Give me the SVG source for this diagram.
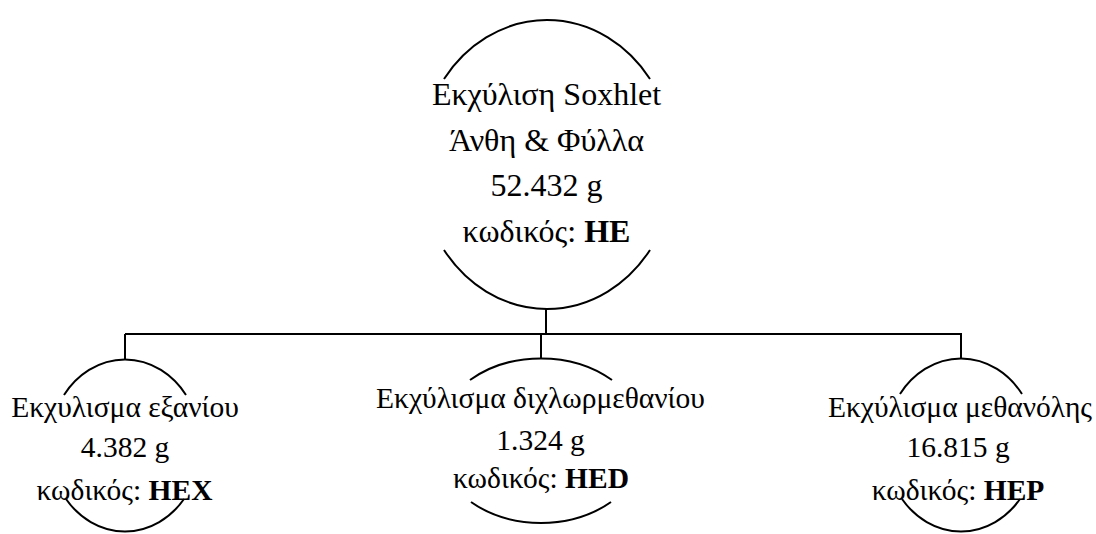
<svg xmlns="http://www.w3.org/2000/svg" width="1096" height="534" viewBox="0 0 1096 534">
  <style>
    .arc { fill: none; stroke: #000; stroke-width: 2; }
    .wire { fill: none; stroke: #000; stroke-width: 2; }
    text { font-family: 'Liberation Serif', 'Times New Roman', serif; fill: #000; text-anchor: middle; }
    .big { font-size: 32px; }
    .small { font-size: 29.5px; }
    .b { font-weight: bold; }
  </style>
  <rect width="1096" height="534" fill="#fff"/>

  <!-- tree connectors -->
  <g id="connectors">
    <path class="wire" d="M546,308 V334"/>
    <path class="wire" d="M125,334 H962"/>
    <path class="wire" d="M125,334 V359"/>
    <path class="wire" d="M541,334 V358"/>
    <path class="wire" d="M961,334 V358"/>
  </g>

  <!-- root: Soxhlet extraction -->
  <g id="node-he">
    <path class="arc" d="M444,79 A128,145 0 0 1 650,79"/>
    <path class="arc" d="M444,250 A128,145 0 0 0 650,250"/>
    <text class="big" x="546.5" y="105">Εκχύλιση Soxhlet</text>
    <text class="big" x="546.5" y="151">Άνθη &amp; Φύλλα</text>
    <text class="big" x="546.5" y="196">52.432 g</text>
    <text class="big" x="546.5" y="242">κωδικός: <tspan class="b">HE</tspan></text>
  </g>

  <!-- hexane extract -->
  <g id="node-hex">
    <path class="arc" d="M64,395 A76,88 0 0 1 186,395"/>
    <path class="arc" d="M66,499 A76,88 0 0 0 184,499"/>
    <text class="small" x="125" y="417">Εκχυλισμα εξανίου</text>
    <text class="small" x="125" y="457">4.382 g</text>
    <text class="small" x="124.5" y="500">κωδικός: <tspan class="b">HEX</tspan></text>
  </g>

  <!-- dichloromethane extract -->
  <g id="node-hed">
    <path class="arc" d="M470,380 A105,82 0 0 1 612,380"/>
    <path class="arc" d="M471,502 A105,82 0 0 0 611,502"/>
    <text class="small" x="540.5" y="408">Εκχύλισμα διχλωρμεθανίου</text>
    <text class="small" x="540.5" y="450">1.324 g</text>
    <text class="small" x="541" y="488">κωδικός: <tspan class="b">HED</tspan></text>
  </g>

  <!-- methanol extract -->
  <g id="node-hep">
    <path class="arc" d="M900,394 A76,88 0 0 1 1022,394"/>
    <path class="arc" d="M902,499 A76,88 0 0 0 1020,499"/>
    <text class="small" x="960" y="417">Εκχύλισμα μεθανόλης</text>
    <text class="small" x="958" y="457">16.815 g</text>
    <text class="small" x="958" y="500">κωδικός: <tspan class="b">HEP</tspan></text>
  </g>
</svg>
